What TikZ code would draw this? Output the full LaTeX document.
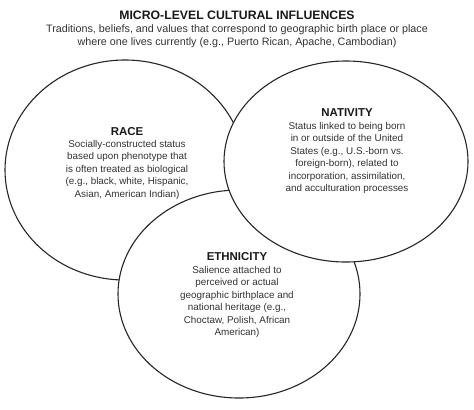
\documentclass[tikz,border=0pt]{standalone}
\usepackage{fontspec}
\setmainfont{Liberation Sans}
\usetikzlibrary{positioning}
\begin{document}
\begin{tikzpicture}[x=1bp,y=-1bp,
    venn/.style={draw=black!85,line width=1.1pt,fill=white},
    heading/.style={font=\fontsize{11.5}{13}\selectfont\bfseries,text=black!90,inner sep=0pt},
    blurb/.style={font=\fontsize{9.9}{12.5}\selectfont,align=center,text=black!80,anchor=north,inner sep=0pt}]
    \useasboundingbox (0,0) rectangle (474,409);

    % title
    \node[font=\fontsize{12.3}{14}\selectfont\bfseries,text=black!90,inner sep=0pt] (title) at (237,15.5) {MICRO-LEVEL CULTURAL INFLUENCES};
    \node[blurb,font=\fontsize{10.8}{14}\selectfont,below=4bp of title] (intro)
        {Traditions, beliefs, and values that correspond to geographic birth place or place\\
         where one lives currently (e.g., Puerto Rican, Apache, Cambodian)};

    % circles
    \draw[venn] (125,170) ellipse (120bp and 110bp);
    \draw[venn] (239,294) ellipse (121bp and 104bp);
    \draw[venn] (346,161.5) ellipse (122bp and 100.5bp);

    % race
    \node[heading] (race) at (127,132) {RACE};
    \node[blurb] (racetxt) at (127,140)
        {Socially-constructed status\\ based upon phenotype that\\ is often treated as biological\\
         (e.g., black, white, Hispanic,\\ Asian, American Indian)};

    % nativity
    \node[heading] (nativity) at (347,113) {NATIVITY};
    \node[blurb] (nativitytxt) at (347,122)
        {Status linked to being born\\ in or outside of the United\\ States (e.g., U.S.-born vs.\\
         foreign-born), related to\\ incorporation, assimilation,\\ and acculturation processes};

    % ethnicity
    \node[heading] (ethnicity) at (237,257) {ETHNICITY};
    \node[blurb] (ethnicitytxt) at (237,266)
        {Salience attached to\\ perceived or actual\\ geographic birthplace and\\
         national heritage (e.g.,\\ Choctaw, Polish, African\\ American)};
\end{tikzpicture}
\end{document}
